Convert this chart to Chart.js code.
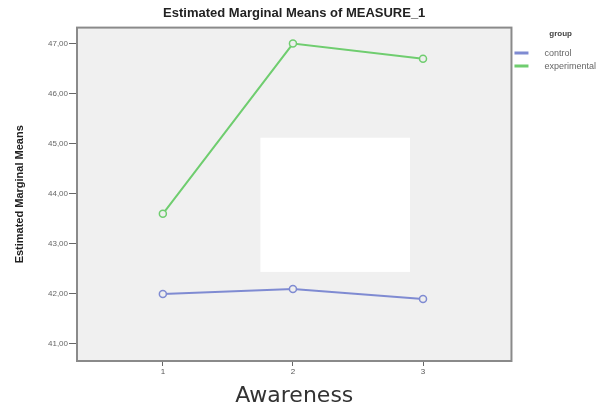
<!DOCTYPE html>
<html>
<head>
<meta charset="utf-8">
<script src="https://cdn.jsdelivr.net/npm/chart.js@4"></script>
<style>
  html, body { margin: 0; padding: 0; background: #fff; overflow: hidden; }
  #wrap { width: 615px; height: 409px; position: relative; }
</style>
</head>
<body>
<div id="wrap"><canvas id="chart"></canvas></div>
<script>
// values
const awareness = [1, 2, 3];
const control = [42.0, 42.1, 41.9];
const experimental = [43.6, 47.0, 46.7];
const yTicks = [41, 42, 43, 44, 45, 46, 47];

// white patch covering the middle of the plot (in data units)
const patch = { x0: 1.75, x1: 2.9, y0: 42.44, y1: 45.12 };

const toPoints = vals => awareness.map((a, i) => ({ x: a, y: vals[i] }));

const plotFrame = {
  id: 'plotFrame',
  beforeDraw(chart) {
    const { ctx, chartArea: a } = chart;
    ctx.save();
    ctx.fillStyle = '#f0f0f0';
    ctx.fillRect(a.left, a.top, a.right - a.left, a.bottom - a.top);
    ctx.restore();
  },
  afterDatasetsDraw(chart) {
    const { ctx, chartArea: a, scales } = chart;
    ctx.save();
    ctx.strokeStyle = '#8a8a8a';
    ctx.lineWidth = 2;
    ctx.strokeRect(a.left, a.top, a.right - a.left, a.bottom - a.top);
    const px0 = scales.x.getPixelForValue(patch.x0);
    const px1 = scales.x.getPixelForValue(patch.x1);
    const py0 = scales.y.getPixelForValue(patch.y1);
    const py1 = scales.y.getPixelForValue(patch.y0);
    ctx.fillStyle = '#ffffff';
    ctx.fillRect(px0, py0, px1 - px0, py1 - py0);
    ctx.restore();
  }
};

const ctx = document.getElementById('chart').getContext('2d');
new Chart(ctx, {
  type: 'line',
  data: {
    datasets: [
      {
        label: '     control',
        data: toPoints(control),
        borderColor: '#7f8bd2',
        backgroundColor: '#7f8bd2',
        pointBackgroundColor: '#eeeeee',
        pointBorderColor: '#7f8bd2',
        borderWidth: 2,
        pointRadius: 3.5,
        pointBorderWidth: 1.5
      },
      {
        label: '     experimental',
        data: toPoints(experimental),
        borderColor: '#6fcd6f',
        backgroundColor: '#6fcd6f',
        pointBackgroundColor: '#eeeeee',
        pointBorderColor: '#6fcd6f',
        borderWidth: 2,
        pointRadius: 3.5,
        pointBorderWidth: 1.5
      }
    ]
  },
  options: {
    responsive: true,
    maintainAspectRatio: false,
    animation: false,
    layout: { padding: { top: 6, right: 9, bottom: 0, left: 0 } },
    plugins: {
      title: {
        display: true,
        fullSize: false,
        text: 'Estimated Marginal Means of MEASURE_1',
        color: '#222',
        font: { family: 'Liberation Sans, Arial, sans-serif', size: 13, weight: 'bold' },
        padding: { top: 0, bottom: 6 }
      },
      legend: {
        position: 'right',
        align: 'start',
        title: {
          display: true,
          text: '                 group',
          position: 'start',
          color: '#444',
          font: { family: 'Liberation Sans, Arial, sans-serif', size: 8, weight: 'bold' },
          padding: { top: 24, bottom: 5 }
        },
        labels: {
          boxWidth: 12,
          boxHeight: 1,
          padding: 4,
          color: '#666',
          font: { family: 'Liberation Sans, Arial, sans-serif', size: 9 }
        }
      },
      tooltip: { enabled: false }
    },
    scales: {
      x: {
        type: 'linear',
        min: 0.34,
        max: 3.68,
        afterBuildTicks: s => { s.ticks = awareness.map(v => ({ value: v })); },
        afterFit: s => { s.height = 48; },
        grid: { drawOnChartArea: false, drawTicks: true, tickLength: 5, color: '#666' },
        border: { display: false },
        ticks: {
          color: '#555',
          padding: 1,
          font: { family: 'Liberation Sans, Arial, sans-serif', size: 8 }
        },
        title: {
          display: true,
          text: 'Awareness',
          color: '#333',
          font: { family: 'DejaVu Sans, Verdana, sans-serif', size: 22 },
          padding: { top: 2, bottom: 0 }
        }
      },
      y: {
        min: 40.66,
        max: 47.32,
        afterBuildTicks: s => { s.ticks = yTicks.map(v => ({ value: v })); },
        afterFit: s => { s.width = 77; },
        grid: { drawOnChartArea: false, drawTicks: true, tickLength: 8, color: '#666' },
        border: { display: false },
        ticks: {
          color: '#666',
          padding: 1,
          font: { family: 'Liberation Sans, Arial, sans-serif', size: 8 },
          callback: v => v.toFixed(2).replace('.', ',')
        },
        title: {
          display: true,
          text: 'Estimated Marginal Means',
          color: '#222',
          font: { family: 'Liberation Sans Narrow, Liberation Sans, Arial, sans-serif', size: 11, weight: 'bold' },
          padding: { top: 13, bottom: 0 }
        }
      }
    }
  },
  plugins: [plotFrame]
});
</script>
</body>
</html>
